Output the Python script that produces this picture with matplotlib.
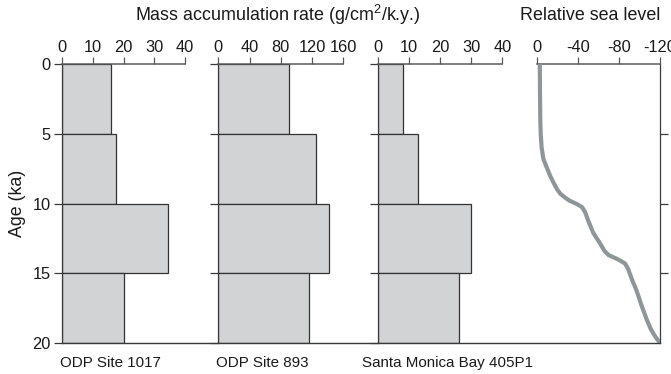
import matplotlib
matplotlib.use("Agg")
import matplotlib.pyplot as plt
import numpy as np

plt.rcParams['font.family'] = ['Liberation Sans', 'DejaVu Sans']
plt.rcParams['mathtext.fontset'] = 'custom'
plt.rcParams['mathtext.rm'] = 'Liberation Sans'
plt.rcParams['mathtext.it'] = 'Liberation Sans'
plt.rcParams['mathtext.bf'] = 'Liberation Sans'

# Data
age_top = [0, 5, 10, 15]
bin_height = 5
mar_1017 = [16, 17.5, 34.5, 20]
mar_893 = [90, 125, 142, 116]
mar_405p1 = [8.2, 13, 29.8, 26.1]
site_labels = ["ODP Site 1017", "ODP Site 893", "Santa Monica Bay 405P1"]

sl_age = [0, 2, 4, 5, 6, 6.8, 7.4, 8.0, 8.6, 9.0, 9.3, 9.6, 9.8, 10.0, 10.25,
          10.6, 11.2, 12.1, 12.9, 13.4, 13.7, 14.0, 14.3, 14.7, 15.5, 16.2,
          17.3, 18.3, 19.0, 19.5, 20]
sea_level = [-3, -3.2, -3.5, -3.9, -4.8, -6.5, -9.7, -13, -17, -20, -23, -28,
             -32, -38, -44, -47, -50, -55, -62, -66, -70, -79, -86, -89, -93,
             -97, -102, -107, -111, -115, -120]

xticks_1017 = [0, 10, 20, 30, 40]
xticks_893 = [0, 40, 80, 120, 160]
xticks_405 = [0, 10, 20, 30, 40]
xticks_sl = [0, -40, -80, -120]
yticks = [0, 5, 10, 15, 20]

W, H = 671, 374
fig = plt.figure(figsize=(W / 100, H / 100), dpi=100)

def px(x0, x1, y0=64, y1=343):
    return [x0 / W, (H - y1) / H, (x1 - x0) / W, (y1 - y0) / H]

spine_c = '#3a3a3a'
top_c = '#5a5a5a'
fill_c = '#d1d3d4'
edge_c = '#333333'
curve_c = '#8f9697'
text_c = '#1a1a1a'
tick_fs = 11.8

axes_pos = [px(62, 185), px(218.3, 343.3), px(377.7, 502.3), px(536.7, 660)]
data = [(mar_1017, xticks_1017), (mar_893, xticks_893), (mar_405p1, xticks_405)]

axes = []
for i, (vals, xt) in enumerate(data):
    ax = fig.add_axes(axes_pos[i])
    ax.barh(age_top, vals, height=bin_height, align='edge', left=0,
            color=fill_c, edgecolor=edge_c, linewidth=0.9, zorder=2)
    ax.set_xlim(xt[0], xt[-1])
    ax.set_ylim(20, 0)
    ax.xaxis.set_ticks_position('top')
    ax.xaxis.set_label_position('top')
    ax.set_xticks(xt)
    ax.set_xticklabels([str(v) for v in xt])
    ax.set_yticks(yticks)
    ax.spines['right'].set_visible(False)
    ax.spines['bottom'].set_visible(False)
    ax.spines['top'].set_color(top_c)
    ax.spines['top'].set_linewidth(1.1)
    ax.spines['left'].set_color(spine_c)
    ax.spines['left'].set_linewidth(0.9)
    ax.tick_params(axis='x', direction='out', length=5, width=0.9, color=top_c,
                   pad=1.5, labelsize=tick_fs, labelcolor=text_c)
    ax.tick_params(axis='y', direction='out', length=5.5, width=0.9, color=spine_c,
                   pad=2.5, labelsize=tick_fs, labelcolor=text_c)
    if i > 0:
        ax.set_yticklabels([])
    ax.patch.set_alpha(0)
    axes.append(ax)

axes[0].set_ylabel('Age (ka)', fontsize=12.8, color=text_c, labelpad=5)

# Sea level panel
ax4 = fig.add_axes(axes_pos[3])
ax4.plot(sea_level, sl_age, color=curve_c, linewidth=3.0,
         solid_capstyle='butt', solid_joinstyle='round', zorder=3)
ax4.set_xlim(0, -120)
ax4.set_ylim(20, 0)
ax4.xaxis.set_ticks_position('top')
ax4.set_xticks(xticks_sl)
ax4.set_xticklabels([str(v) for v in xticks_sl])
ax4.yaxis.set_ticks_position('right')
ax4.set_yticks([5, 10, 15])
ax4.set_yticklabels([])
ax4.spines['left'].set_visible(False)
ax4.spines['bottom'].set_visible(False)
ax4.spines['top'].set_color(top_c)
ax4.spines['top'].set_linewidth(1.1)
ax4.spines['right'].set_color(spine_c)
ax4.spines['right'].set_linewidth(0.9)
ax4.tick_params(axis='x', direction='out', length=5, width=0.9, color=top_c,
                pad=1.5, labelsize=tick_fs, labelcolor=text_c)
ax4.tick_params(axis='y', direction='out', length=5.5, width=0.9, color=spine_c)
ax4.patch.set_alpha(0)

# Continuous bottom line across panels
base = fig.add_axes(px(62, 660), zorder=5)
base.set_xticks([])
base.set_yticks([])
for s in ['top', 'left', 'right']:
    base.spines[s].set_visible(False)
base.spines['bottom'].set_color(spine_c)
base.spines['bottom'].set_linewidth(1.0)
base.patch.set_alpha(0)

# Titles
fig.text(278 / W, 1 - 15 / H, r'Mass accumulation rate (g/cm$^{2}$/k.y.)',
         ha='center', va='center', fontsize=12.9, color=text_c)
fig.text(590 / W, 1 - 15 / H, 'Relative sea level',
         ha='center', va='center', fontsize=12.9, color=text_c)

# Site labels
label_x = [59.5, 216.5, 361.5]
for lx, lab in zip(label_x, site_labels):
    fig.text(lx / W, 1 - 363 / H, lab, ha='left', va='center',
             fontsize=10.9, color=text_c)

fig.savefig('out.png', dpi=100)
